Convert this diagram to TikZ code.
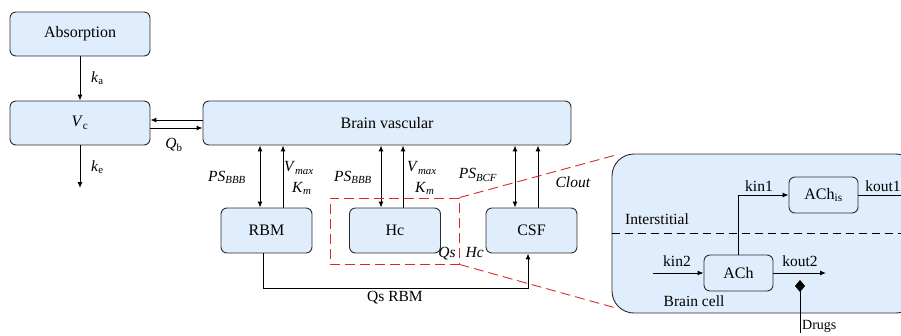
\documentclass[tikz,border=0pt]{standalone}
\usepackage{fontspec}
\setmainfont{Liberation Serif}
\usetikzlibrary{arrows.meta,calc,positioning}
\definecolor{CompBlue}{RGB}{223,237,252}
\definecolor{CompEdge}{RGB}{45,45,45}
\definecolor{ZoomRed}{RGB}{220,40,40}

\begin{document}
\begin{tikzpicture}[x=1pt,y=-1pt,>={Latex[length=6pt,width=5pt]},
    comp/.style={draw=CompEdge,fill=CompBlue,line width=0.9pt,rounded corners=6pt,
      inner sep=0pt,font=\rmfamily\fontsize{16}{18}\selectfont},
    lab/.style={inner sep=0pt,font=\rmfamily\fontsize{15.5}{18}\selectfont},
    flow/.style={line width=1pt},
    zoomline/.style={ZoomRed,line width=0.9pt,dash pattern=on 10pt off 5pt}]
  \useasboundingbox (0,0) rectangle (901,335);
  % compartments
  \node[comp,minimum width=140,minimum height=44] (abs) at (80,34) {Absorption};
  \node[comp,minimum width=140,minimum height=44] (vc) at (80,123) {\textit{V}\textsubscript{c}};
  \node[comp,minimum width=368,minimum height=44] (bv) at (387,123) {Brain vascular};
  \node[comp,minimum width=91,minimum height=45] (rbm) at (266.5,230.5) {RBM};
  \node[comp,minimum width=91,minimum height=45] (hc) at (395,230.5) {Hc};
  \node[comp,minimum width=91,minimum height=45] (csf) at (531.5,230.5) {CSF};
  % absorption and elimination
  \draw[flow,->] (abs) -- (vc);
  \node[lab,anchor=west] (ka) at (91,78) {\textit{k}\textsubscript{a}};
  \coordinate (elim) at (80,188);
  \draw[flow,->] (vc) -- (elim);
  \node[lab,anchor=west] (ke) at (91,167) {\textit{k}\textsubscript{e}};
  \draw[flow,->] ([yshift=3pt]bv.west) -- ([yshift=3pt]vc.east);
  \draw[flow,->] ([yshift=-5pt]vc.east) -- ([yshift=-5pt]bv.west);
  \node[lab] (qb) at (174,145) {\textit{Q}\textsubscript{b}};
  % exchange with the brain vascular
  \coordinate (rbmA) at ([xshift=-6.5pt]rbm.north);
  \coordinate (rbmB) at ([xshift=16.5pt]rbm.north);
  \coordinate (hcA) at ([xshift=-14pt]hc.north);
  \coordinate (hcB) at ([xshift=8pt]hc.north);
  \coordinate (csfA) at ([xshift=-16.5pt]csf.north);
  \coordinate (csfB) at ([xshift=6.5pt]csf.north);
  \draw[flow,<->] (rbmA) -- (rbmA |- bv.south);
  \draw[flow,->] (rbmB) -- (rbmB |- bv.south);
  \draw[flow,<->] (hcA) -- (hcA |- bv.south);
  \draw[flow,->] (hcB) -- (hcB |- bv.south);
  \draw[flow,<->] (csfA) -- (csfA |- bv.south);
  \draw[flow,->] (csfB) -- (csfB |- bv.south);
  \node[lab] (psA) at (227,177) {\textit{PS}\textsubscript{\textit{BBB}}};
  \node[lab,anchor=west] (vmA) at (284,168) {\textit{V}\textsubscript{\textit{max}}};
  \node[lab,anchor=west] (kmA) at (292,188) {\textit{K}\textsubscript{\textit{m}}};
  \node[lab] (psB) at (353,177) {\textit{PS}\textsubscript{\textit{BBB}}};
  \node[lab,anchor=west] (vmB) at (407,168) {\textit{V}\textsubscript{\textit{max}}};
  \node[lab,anchor=west] (kmB) at (415,188) {\textit{K}\textsubscript{\textit{m}}};
  \node[lab] (psC) at (478,175) {\textit{PS}\textsubscript{\textit{BCF}}};
  \node[lab] (clout) at (573,182) {\textit{Clout}};
  % flows into the CSF
  \draw[flow,->] ([xshift=-3.5pt]rbm.south) -- ++(0,35) -| ([xshift=-3.5pt]csf.south);
  \node[lab] (qsrbm) at (395,298) {Qs RBM};
  \node[lab] (qshc) at (461,254) {\textit{Qs}\hspace{10pt}\textit{Hc}};
  % zoom on Hc
  \node[zoomline,draw,minimum width=129,minimum height=66,inner sep=0pt] (zoom) at (394.5,231) {};
  \node[draw=CompEdge,fill=CompBlue,line width=0.9pt,rounded corners=22pt,
    minimum width=306,minimum height=159,inner sep=0pt] (cell) at (765,233.5) {};
  \draw[zoomline] (zoom.north east) -- ([xshift=6pt,yshift=-1pt]cell.north west);
  \draw[zoomline] (zoom.south east) -- ([xshift=6pt,yshift=5pt]cell.south west);
  \draw[line width=0.9pt,dash pattern=on 8pt off 5pt] (cell.west) -- (cell.east);
  \node[lab] (inter) at (657,219) {Interstitial};
  \node[lab] (bcell) at (694,301) {Brain cell};
  \node[comp,minimum width=69,minimum height=36] (achis) at (823.5,195) {ACh\textsubscript{is}};
  \node[comp,minimum width=69,minimum height=36] (ach) at (738.5,273) {ACh};
  \draw[flow,->] (ach.north) |- (achis.west);
  \node[lab] (kin1) at (759,186) {kin1};
  \coordinate (kout1e) at (915,195);
  \draw[flow] (achis.east) -- (kout1e);
  \node[lab] (kout1) at (883,186) {kout1};
  \coordinate (kin2s) at (653,273);
  \draw[flow,->] (kin2s) -- (ach.west);
  \node[lab] (kin2) at (677,261) {kin2};
  \coordinate (kout2e) at (826,273);
  \draw[flow,->] (ach.east) -- (kout2e);
  \node[lab] (kout2) at (800,261) {kout2};
  \coordinate (drug) at (800,280);
  \node[lab,anchor=north west,font=\rmfamily\fontsize{14}{16}\selectfont] (drugs) at (802,320) {Drugs};
  \draw[flow,{Diamond[length=12pt,width=10pt]}-] (drug) -- (drug |- drugs.south);
\end{tikzpicture}
\end{document}
